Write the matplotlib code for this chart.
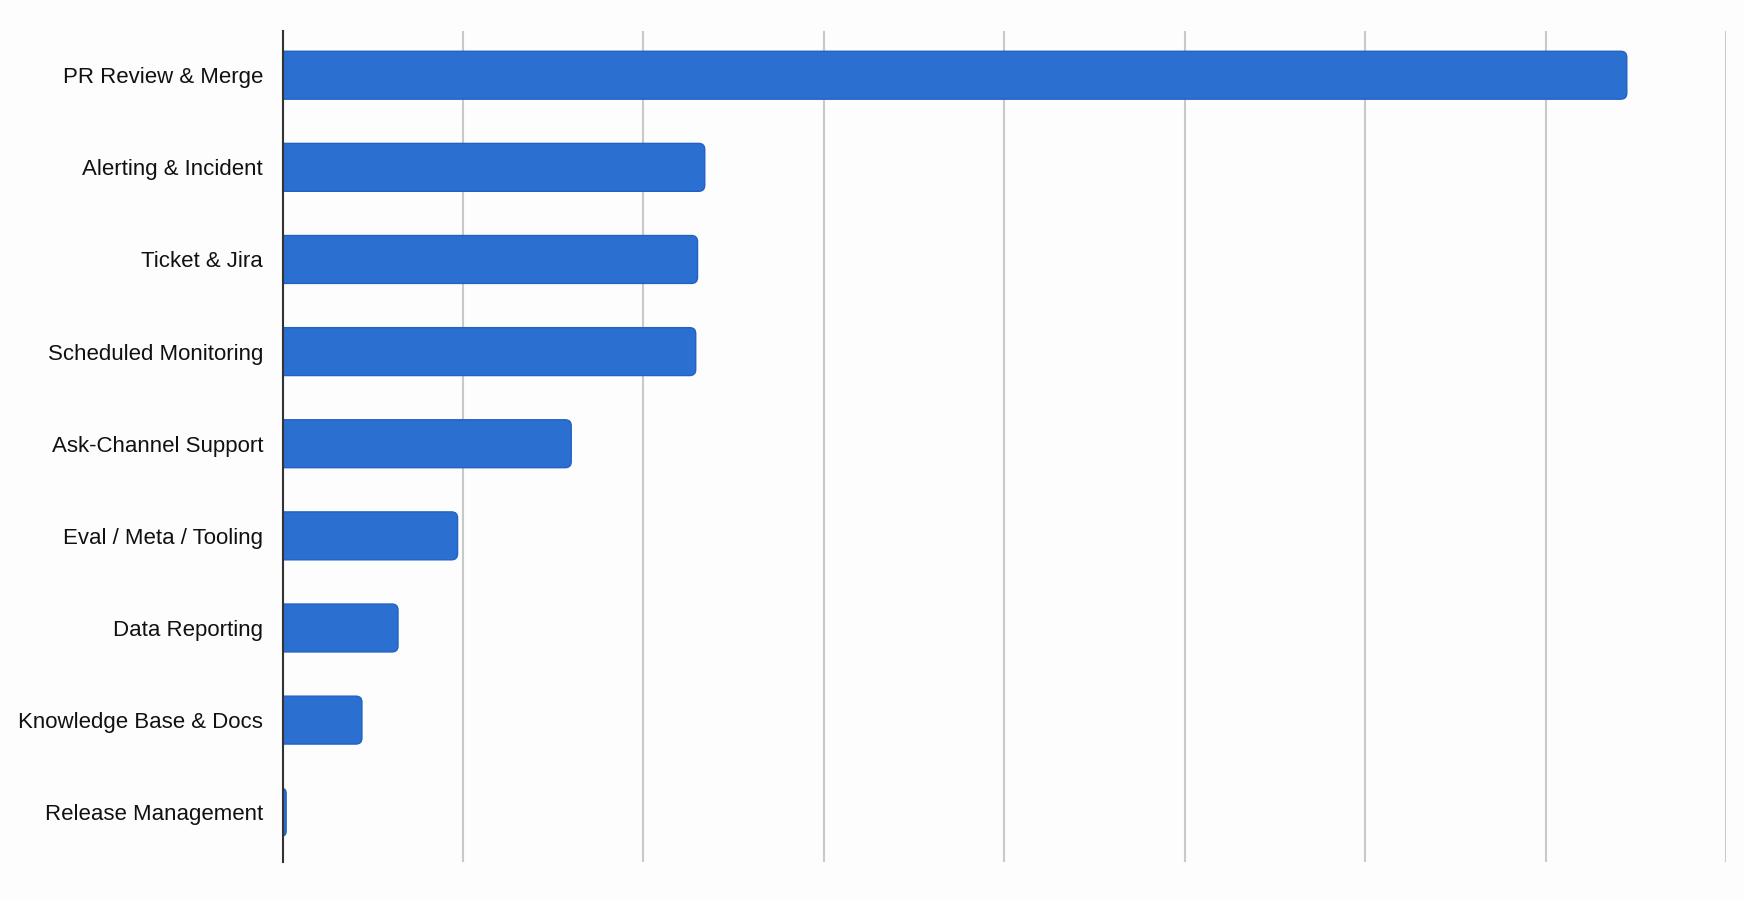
import numpy as np
import matplotlib
matplotlib.use("Agg")
import matplotlib.pyplot as plt
from matplotlib import font_manager
from matplotlib.patches import FancyBboxPatch

# categories top to bottom (gridline step = 10)
categories = [
    "PR Review & Merge",
    "Alerting & Incident",
    "Ticket & Jira",
    "Scheduled Monitoring",
    "Ask-Channel Support",
    "Eval / Meta / Tooling",
    "Data Reporting",
    "Knowledge Base & Docs",
    "Release Management",
]
values = [74.5, 23.4, 23.0, 22.9, 16.0, 9.7, 6.4, 4.4, 0.2]
grid_ticks = [0, 10, 20, 30, 40, 50, 60, 70, 80]

bar_color = "#2b6fd0"
edge_color = "#2262c4"

# narrow sans if we have it, else the regular one a bit smaller
names = {f.name for f in font_manager.fontManager.ttflist}
if "Liberation Sans Narrow" in names:
    label_font, label_size = "Liberation Sans Narrow", 19.5
else:
    label_font, label_size = "Liberation Sans", 16

fig = plt.figure(figsize=(17.44, 9.01), dpi=100, facecolor="#fdfdfd")
ax = fig.add_axes([0.162, 0.0433, 0.8277, 0.9223])
ax.set_facecolor("#fdfdfd")

y = np.arange(len(categories))
height = 0.52
bars = ax.barh(y, values, height=height, color="none", edgecolor="none")

# swap in rounded boxes (left end pushed past the axis so only the right corners show round)
r = 0.33
for b, v in zip(bars, values):
    x0, y0 = b.get_x(), b.get_y()
    w, h = b.get_width(), b.get_height()
    box = FancyBboxPatch((x0 - r, y0), w + r, h,
                         boxstyle="round,pad=0,rounding_size=%f" % min(r, (w + r) / 2),
                         mutation_aspect=0.2,
                         facecolor=bar_color, edgecolor=edge_color, linewidth=1.0,
                         zorder=3)
    ax.add_patch(box)
    b.remove()

ax.set_xlim(0, 80)
ax.set_ylim(len(categories) - 0.46, -0.48)
ax.set_xticks(grid_ticks)
ax.set_xticklabels([])
ax.tick_params(axis="x", length=0)
ax.set_yticks(y)
ax.set_yticklabels(categories, fontsize=label_size, family=label_font, color="#111111")
ax.tick_params(axis="y", length=0, pad=14)

ax.grid(axis="x", color="#c9c9c9", linewidth=1.5, zorder=0)
ax.set_axisbelow(True)
for s in ["top", "right", "bottom"]:
    ax.spines[s].set_visible(False)
ax.spines["left"].set_color("#333333")
ax.spines["left"].set_linewidth(1.5)
ax.spines["left"].set_zorder(4)

fig.savefig("out.png", dpi=100, facecolor=fig.get_facecolor())
